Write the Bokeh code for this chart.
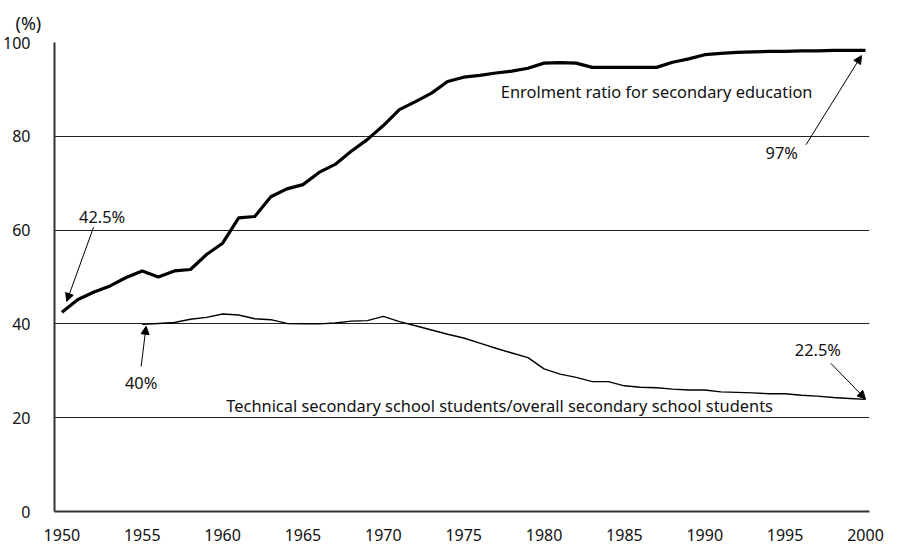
from bokeh.plotting import figure
from bokeh.models import Range1d, FixedTicker, Label, Arrow, NormalHead
from bokeh.embed import file_html
from bokeh.resources import INLINE

FONT = "Noto Sans"

# ---- data ----
years_enrol = list(range(1950, 2001))
enrolment = [42.5, 45.2, 46.8, 48.1, 49.9, 51.3, 50.0, 51.3, 51.6, 54.8,
             57.2, 62.6, 62.9, 67.1, 68.8, 69.7, 72.3, 74.0, 76.8, 79.3,
             82.3, 85.7, 87.4, 89.2, 91.7, 92.6, 93.0, 93.5, 93.9, 94.5,
             95.6, 95.7, 95.6, 94.7, 94.7, 94.7, 94.7, 94.7, 95.8, 96.5,
             97.4, 97.7, 97.9, 98.0, 98.1, 98.1, 98.2, 98.2, 98.3, 98.3,
             98.3]

years_tech = list(range(1955, 2001))
technical = [39.9, 40.1, 40.3, 41.0, 41.4, 42.1, 41.9, 41.1, 40.9, 40.1,
             40.0, 40.0, 40.2, 40.6, 40.7, 41.6, 40.5, 39.6, 38.7, 37.8,
             37.0, 35.9, 34.8, 33.8, 32.8, 30.4, 29.3, 28.6, 27.7, 27.7,
             26.8, 26.5, 26.4, 26.1, 25.9, 25.9, 25.5, 25.4, 25.3, 25.1,
             25.1, 24.8, 24.6, 24.3, 24.1, 23.9]

x_ticks = [1950, 1955, 1960, 1965, 1970, 1975, 1980, 1985, 1990, 1995, 2000]
y_ticks = [0, 20, 40, 60, 80, 100]

series_enrol_name = "Enrolment ratio for secondary education"
series_tech_name = "Technical secondary school students/overall secondary school students"

# ---- figure ----
p = figure(width=886, height=546, output_backend="svg", toolbar_location=None,
           x_range=Range1d(1949.54, 2000.25), y_range=Range1d(0, 100),
           min_border_left=0, min_border_right=17, min_border_top=42,
           min_border_bottom=35, title="(%)")
p.outline_line_color = None
p.background_fill_color = "white"
p.border_fill_color = "white"

p.title.text_font = FONT
p.title.text_font_size = "18px"
p.title.text_font_style = "normal"
p.title.text_color = "#111111"
p.title.align = "left"
p.title.offset = -39
p.title.standoff = 15

p.xaxis.ticker = FixedTicker(ticks=x_ticks)
p.yaxis.ticker = FixedTicker(ticks=y_ticks)
for ax in (p.xaxis, p.yaxis):
    ax.major_tick_line_color = None
    ax.minor_tick_line_color = None
    ax.axis_line_color = "#333333"
    ax.axis_line_width = 2
    ax.major_label_text_font = FONT
    ax.major_label_text_font_size = "16px"
    ax.major_label_text_color = "#111111"
p.xaxis.major_label_standoff = 11
p.yaxis.major_label_standoff = 18

p.xgrid.grid_line_color = None
p.ygrid.grid_line_color = "#222222"
p.ygrid.grid_line_width = 1

p.line(years_enrol, enrolment, line_color="black", line_width=3.2,
       line_join="round")
p.line(years_tech, technical, line_color="black", line_width=1.4,
       line_join="round")

def lab(x, y, t, align="left"):
    p.add_layout(Label(x=x, y=y, text=t, text_font=FONT, text_font_size="16.4px",
                       text_align=align, text_baseline="middle",
                       text_color="#111111"))

lab(1977.31, 89.5, series_enrol_name)
lab(1960.23, 22.5, series_tech_name)
lab(1994.79, 76.6, "97%", "center")
lab(1952.5, 63.0, "42.5%", "center")
lab(1954.93, 27.5, "40%", "center")
lab(1997.04, 34.6, "22.5%", "center")

def arr(x0, y0, x1, y1):
    p.add_layout(Arrow(x_start=x0, y_start=y0, x_end=x1, y_end=y1,
                       line_color="black", line_width=1,
                       end=NormalHead(size=8, fill_color="black",
                                      line_color="black", line_width=1)))

arr(1951.97, 60.6, 1950.3, 44.8)
arr(1996.3, 78.2, 1999.75, 97.2)
arr(1954.93, 30.9, 1955.24, 39.5)
arr(1997.84, 31.6, 2000.0, 24.0)

open("out.html", "w").write(file_html(p, INLINE))
